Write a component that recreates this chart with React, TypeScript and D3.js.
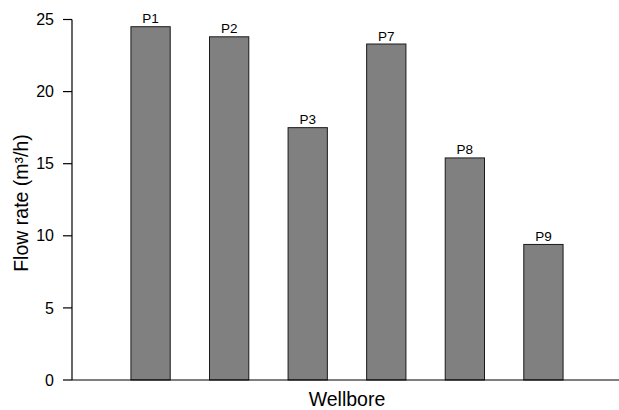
import React from "react";
import { scaleBand, scaleLinear } from "d3";

const wells = ["P1", "P2", "P3", "P7", "P8", "P9"];
const flowRates = [24.5, 23.8, 17.5, 23.3, 15.4, 9.4];
const yTicks = [0, 5, 10, 15, 20, 25];

const W = 619;
const H = 410;
const left = 72;
const top = 19.5;
const bottom = 380;

const App = () => {
  const x = scaleBand<string>()
    .domain(wells)
    .range([left, 622])
    .paddingInner(0.5)
    .paddingOuter(0.75);
  const y = scaleLinear().domain([0, 25]).range([bottom, top]);

  const font = "Arial, 'Liberation Sans', sans-serif";

  return (
    <svg
      width={W}
      height={H}
      style={{ position: "absolute", left: 0, top: 0 }}
      fontFamily={font}
    >
      {wells.map((w, i) => (
        <g key={w}>
          <rect
            x={x(w)}
            y={y(flowRates[i])}
            width={x.bandwidth()}
            height={bottom - y(flowRates[i])}
            fill="#808080"
            stroke="#1a1a1a"
            strokeWidth={1}
          />
          <text
            x={(x(w) as number) + x.bandwidth() / 2}
            y={y(flowRates[i]) - 3.5}
            textAnchor="middle"
            fontSize={13.5}
          >
            {w}
          </text>
        </g>
      ))}

      {/* axes */}
      <line x1={left} x2={W} y1={bottom} y2={bottom} stroke="#000" strokeWidth={1.2} />
      <line x1={left} x2={left} y1={top} y2={bottom} stroke="#000" strokeWidth={1.2} />
      {yTicks.map((t) => (
        <g key={t}>
          <line x1={left - 9} x2={left} y1={y(t)} y2={y(t)} stroke="#000" strokeWidth={1.2} />
          <text x={54} y={y(t)} dy="0.35em" textAnchor="end" fontSize={16}>
            {t}
          </text>
        </g>
      ))}

      <text
        transform={`translate(28,203) rotate(-90)`}
        textAnchor="middle"
        fontSize={19.5}
      >
        Flow rate (m³/h)
      </text>
      <text x={347} y={406} textAnchor="middle" fontSize={19.5}>
        Wellbore
      </text>
    </svg>
  );
};

export default App;
